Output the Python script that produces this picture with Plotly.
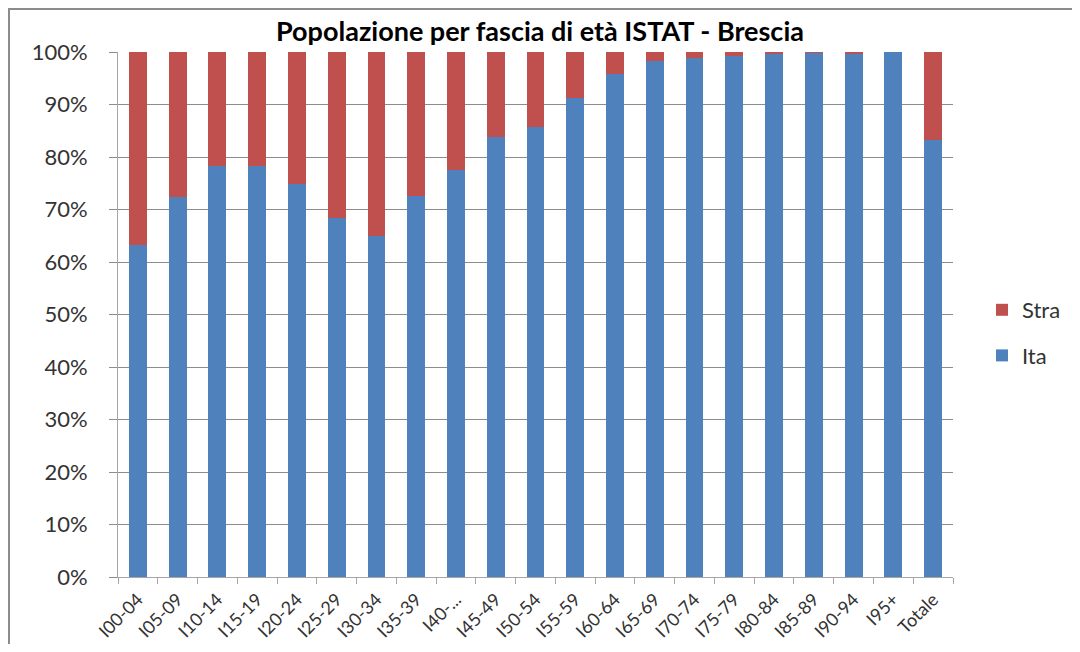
import plotly.graph_objects as go

categories = ["I00-04", "I05-09", "I10-14", "I15-19", "I20-24", "I25-29", "I30-34",
              "I35-39", "I40-...", "I45-49", "I50-54", "I55-59", "I60-64", "I65-69",
              "I70-74", "I75-79", "I80-84", "I85-89", "I90-94", "I95+", "Totale"]
ita = [63.2, 72.3, 78.3, 78.2, 74.9, 68.3, 65.0, 72.5, 77.5, 83.8, 85.7,
       91.3, 95.9, 98.2, 98.9, 99.2, 99.7, 99.9, 99.7, 100.0, 83.2]
stra = [round(100 - v, 1) for v in ita]

FONT = "Lato"
OFF = 8  # default page body margin
W, H = 1080 - 2 * OFF, 652 - 2 * OFF
# plot area in page pixels: x 118..953, y 52..577
L, T = 118 - OFF, 52 - OFF
R = W - (953 - OFF)
B = H - (577 - OFF)
pw, ph = W - L - R, H - T - B

def px(x):  # page pixel -> paper x
    return (x - OFF - L) / pw

def py(y):  # page pixel -> paper y
    return (H - B - (y - OFF)) / ph

fig = go.Figure()
fig.add_trace(go.Bar(x=categories, y=ita, name="Ita", marker_color="#4F81BD",
                     legendgroup="ita", legendrank=2, marker_line_width=0))
fig.add_trace(go.Bar(x=categories, y=stra, name="Stra", marker_color="#C0504D",
                     legendgroup="stra", legendrank=1, marker_line_width=0))

fig.update_layout(
    width=W, height=H,
    barmode="stack", bargap=0.55,
    margin=dict(l=L, r=R, t=T, b=B, autoexpand=False),
    paper_bgcolor="white", plot_bgcolor="white",
    font=dict(family=FONT, color="#333333"),
    title=dict(text="<b>Popolazione per fascia di età ISTAT - Brescia</b>",
               x=0.5, xanchor="center", y=1 - (32 - OFF) / H, yanchor="middle",
               font=dict(size=27, color="#000000", family=FONT)),
    legend=dict(x=px(982), xanchor="left", y=py(333), yanchor="middle",
                traceorder="grouped", tracegroupgap=14,
                font=dict(size=22, color="#333333"), itemwidth=30),
    xaxis=dict(type="category", showgrid=False, showline=True, linecolor="#A6A6A6",
               linewidth=1, ticks="outside", tickson="boundaries", ticklen=6,
               tickcolor="#A6A6A6", tickangle=-45, tickfont=dict(size=18, color="#333333"),
               ticklabelstandoff=4, automargin=False),
    yaxis=dict(range=[0, 100], dtick=10, ticksuffix="%", showgrid=True,
               gridcolor="#8C8C8C", gridwidth=1, showline=True, linecolor="#A6A6A6",
               ticks="outside", ticklen=8, tickcolor="#8C8C8C",
               tickfont=dict(size=22, color="#333333"), zeroline=False,
               ticklabelstandoff=17, automargin=False),
    shapes=[
        dict(type="line", xref="paper", yref="paper", x0=px(OFF), x1=px(1100),
             y0=py(OFF + 1), y1=py(OFF + 1), line=dict(color="#8C8C8C", width=2)),
        dict(type="line", xref="paper", yref="paper", x0=px(OFF + 1), x1=px(OFF + 1),
             y0=py(OFF), y1=py(700), line=dict(color="#8C8C8C", width=2)),
    ],
)

fig.write_html("out.html")
